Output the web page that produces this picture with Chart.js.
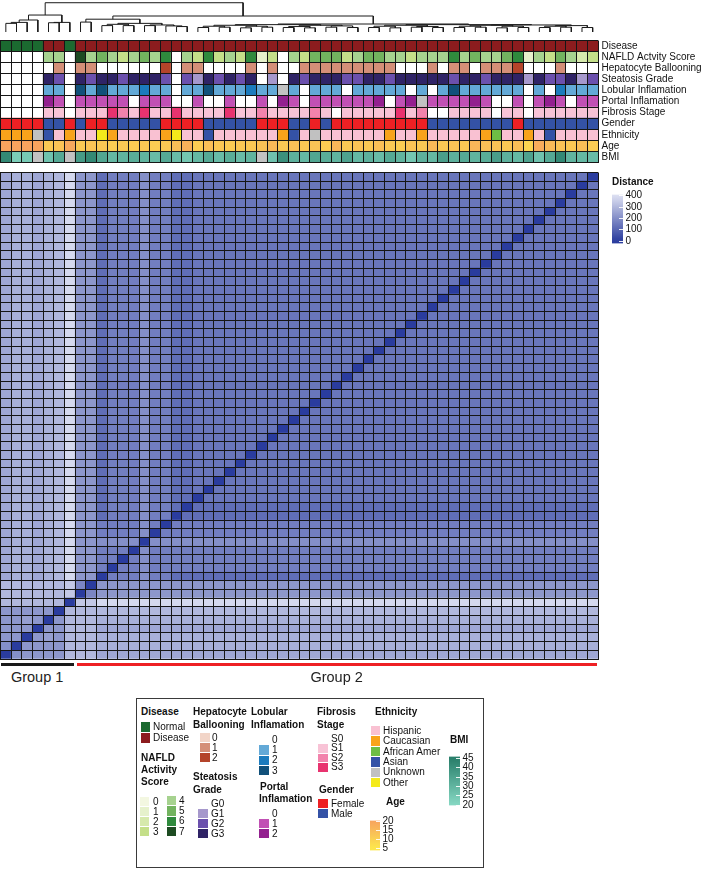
<!DOCTYPE html>
<html lang="en">
<head>
<meta charset="UTF-8">
<meta name="viewport" content="width=device-width, initial-scale=1.0">
<title>Sample distance heatmap</title>
<script src="https://cdn.jsdelivr.net/npm/chart.js@4.4.1/dist/chart.umd.min.js"></script>
<style>
  html, body { margin: 0; padding: 0; background: #fff; }
  #page { position: relative; width: 709px; height: 869px; overflow: hidden;
          font-family: 'Liberation Sans', Arial, Helvetica, sans-serif; color: #111; }
  #page canvas { position: absolute; }
  .lbl { position: absolute; font-size: 10px; line-height: 12px; white-space: nowrap; }
  .ttl { font-weight: bold; }
  .sw { position: absolute; }
  .grp { position: absolute; font-size: 14.5px; line-height: 17px; text-align: center; color: #222; }
  #legendBox { position: absolute; left: 136px; top: 698px; width: 348px; height: 170px;
               border: 1.5px solid #3a3a3a; box-sizing: border-box; }
</style>
</head>
<body>
<div id="page">
  <canvas id="dendro" width="599" height="32" style="left:0;top:0"></canvas>
  <canvas id="tracks" width="709" height="141" style="left:0;top:31px"></canvas>
  <canvas id="heat" width="600" height="490" style="left:0;top:171px"></canvas>
  <canvas id="distBar" width="40" height="66" style="left:612px;top:186px"></canvas>
  <div id="legendBox"></div>
  <canvas id="ageBar" width="39" height="47" style="left:370px;top:812px"></canvas>
  <canvas id="bmiBar" width="40" height="66" style="left:449px;top:748px"></canvas>
</div>

<script>
// ---------- data (one entry per sample, left to right) ----------
const disease = [0,0,0,0,1,1,0,1,1,1,
                 1,1,1,1,1,1,1,1,1,1,
                 1,1,1,1,1,1,1,1,1,1,
                 1,1,1,1,1,1,1,1,1,1,
                 1,1,1,1,1,1,1,1,1,1,
                 1,1,1,1,1,1];
const nafld = [null,null,null,null,4,4,null,7,4,5,
               4,3,4,5,4,6,0,4,3,6,
               3,4,3,6,1,3,0,4,3,5,
               5,5,3,4,5,5,4,4,3,4,
               4,4,6,4,5,4,4,5,6,1,
               4,3,5,4,2,3];
const ballooning = [null,null,null,null,0,1,null,1,1,0,
                    0,0,0,0,0,2,0,1,1,0,
                    0,0,0,1,0,1,0,0,1,1,
                    1,1,1,1,1,1,1,0,0,0,
                    1,0,1,1,0,1,1,1,2,0,
                    0,0,1,0,0,0];
const steatosis = [null,null,null,null,3,2,null,3,2,3,
                   3,2,3,3,3,2,0,2,1,3,
                   2,3,2,3,0,1,0,3,2,3,
                   3,3,2,2,3,3,2,3,3,3,
                   3,3,2,3,3,2,3,3,3,1,
                   3,2,2,3,1,2];
const lobular = [null,null,null,null,1,1,null,3,1,3,
                 1,1,1,2,1,1,0,1,1,3,
                 1,1,1,2,1,1,-1,1,0,1,
                 1,1,0,1,1,1,1,1,0,1,
                 0,1,3,1,1,1,1,1,1,0,
                 1,0,2,1,1,1];
const portal = [null,null,null,null,2,1,null,1,1,1,
                1,1,0,1,1,1,0,0,1,0,
                0,1,0,0,1,0,2,1,0,1,
                1,1,1,1,1,2,0,1,2,-1,
                1,1,1,1,2,1,0,0,1,0,
                1,2,1,0,1,1];
const fibrosis = [null,null,null,null,1,1,null,1,1,1,
                  3,2,1,3,1,1,3,1,1,1,
                  1,3,1,1,2,1,1,1,1,2,
                  1,0,1,1,1,1,1,3,1,2,
                  0,0,1,1,1,1,0,1,1,0,
                  1,1,1,1,1,1];
const gender = [0,0,0,0,1,1,0,1,0,0,
                1,1,1,1,1,0,0,0,0,1,
                1,1,1,1,0,0,0,1,1,0,
                1,0,0,0,0,0,0,0,0,0,
                1,1,1,1,1,1,1,1,0,1,
                1,1,1,1,1,1];
const ethnicity = [1,1,1,4,3,0,1,0,0,5,
                   1,0,0,0,0,1,5,0,0,3,
                   0,0,0,0,0,0,1,3,0,4,
                   0,0,0,0,0,0,1,0,0,1,
                   0,0,0,0,0,1,2,0,0,1,
                   0,3,0,0,0,0];
const age = [20,20,20,20,12,13,19,12,13,12,
             11,12,11,12,11,12,14,17,11,14,
             12,11,12,12,13,15,12,14,12,13,
             11,16,12,13,12,14,12,11,13,12,
             15,12,13,12,16,14,13,12,14,9,
             18,15,13,12,14,11];
const bmi = [42,23,24,null,26,33,null,37,42,34,
             29,30,32,30,28,33,28,25,29,33,
             28,32,28,30,null,26,40,31,29,34,
             32,30,35,29,31,28,33,30,25,31,
             29,36,31,33,30,32,36,31,29,35,
             26,33,42,30,29,28];

const trackNames = ['Disease', 'NAFLD Actvity Score', 'Hepatocyte Ballooning', 'Steatosis Grade',
                    'Lobular Inflamation', 'Portal Inflamation', 'Fibrosis Stage', 'Gender',
                    'Ethnicity', 'Age', 'BMI'];
const diseaseLevels = ['Normal', 'Disease'];
const genderLevels = ['Female', 'Male'];
const ethnicityLevels = ['Hispanic', 'Caucasian', 'African Amer', 'Asian', 'Unknown', 'Other'];
const groups = [{ name: 'Group 1', from: 0, to: 6 }, { name: 'Group 2', from: 7, to: 55 }];
const distTicks = [0, 100, 200, 300, 400];
const ageTicks = [5, 10, 15, 20];
const bmiTicks = [20, 25, 30, 35, 40, 45];

// distance matrix, row = sample (bottom row = first sample), letter a..u = 0..400 in steps of 20
const distRows = [
  "akllllpppn nnnnnnnnnn nnnnnnnnnn nnnnnnnnnn nnnnnnnnnn nnnnnn",
  "kallllpppo oooooooooo oooooooooo oooooooooo oooooooooo oooooo",
  "llalmlpppo oooooooooo oooooooooo oooooooooo oooooooooo oooooo",
  "lllallpppn nnnnnnnnnn nnnnnnnnnn nnnnnnnnnn nnnnnnnnnn nnnnnn",
  "llmlalpppo oooooooooo oooooooooo oooooooooo oooooooooo oooooo",
  "lllllapppp pppppppppp pppppppppp pppppppppp pppppppppp pppppp",
  "pppppparrt tttttttttt tttttttttt tttttttttt tttttttttt tttttt",
  "pppppprajl llllllllll llllllllll llllllllll llllllllll llllll",
  "pppppprjal llllllllll llllllllll llllllllll llllllllll llllll",
  "noonoptlla iiikiigggg gggggggggg gggggggggg gggggggggg gggggg",
  "noonoptlli aiikiiiiii iiiiiiiiii iiiiiiiiii iiiiiiiiii iiiiii",
  "noonoptlli iaikiiiiii iiiiiiiiii iiiiiiiiii iiiiiiiiii iiiiii",
  "noonoptlli iiakiiiiii iiiiiiiiii iiiiiiiiii iiiiiiiiii iiiiii",
  "noonoptllk kkkakkkkkk kkkkkkkkkk kkkkkkkkkk kkkkkkkkkk kkkkkk",
  "noonoptlli iiikaiiiii iiiiiiiiii iiiiiiiiii iiiiiiiiii iiiiii",
  "noonoptlli iiikiaiiii iiiiiiiiii iiiiiiiiii iiiiiiiiii iiiiii",
  "noonoptllg iiikiiaggg gggggggggg gggggggggg gggggggggg gggggg",
  "noonoptllg iiikiigagg gggggggggg gggggggggg gggggggggg gggggg",
  "noonoptllg iiikiiggah hhhhhhhhhh hhhhhhhhhh hhhhhhhhhh hhhhhh",
  "noonoptllg iiikiiggha hhhhhhhhhh hhhhhhhhhh hhhhhhhhhh hhhhhh",
  "noonoptllg iiikiigghh ahhhhhhhhh hhhhhhhhhh hhhhhhhhhh hhhhhh",
  "noonoptllg iiikiigghh hahhhhhhhh hhhhhhhhhh hhhhhhhhhh hhhhhh",
  "noonoptllg iiikiigghh hhahhhhhhh hhhhhhhhhh hhhhhhhhhh hhhhhh",
  "noonoptllg iiikiigghh hhhahhhhhh hhhhhhhhhh hhhhhhhhhh hhhhhh",
  "noonoptllg iiikiigghh hhhhahhhhh hhhhhhhhhh hhhhhhhhhh hhhhhh",
  "noonoptllg iiikiigghh hhhhhahhhh hhhhhhhhhh hhhhhhhhhh hhhhhh",
  "noonoptllg iiikiigghh hhhhhhahhh hhhhhhhhhh hhhhhhhhhh hhhhhh",
  "noonoptllg iiikiigghh hhhhhhhahh hhhhhhhhhh hhhhhhhhhh hhhhhh",
  "noonoptllg iiikiigghh hhhhhhhhah hhhhhhhhhh hhhhhhhhhh hhhhhh",
  "noonoptllg iiikiigghh hhhhhhhhha hhhhhhhhhh hhhhhhhhhh hhhhhh",
  "noonoptllg iiikiigghh hhhhhhhhhh ahhhhhhhhh hhhhhhhhhh hhhhhh",
  "noonoptllg iiikiigghh hhhhhhhhhh hahhhhhhhh hhhhhhhhhh hhhhhh",
  "noonoptllg iiikiigghh hhhhhhhhhh hhahhhhhhh hhhhhhhhhh hhhhhh",
  "noonoptllg iiikiigghh hhhhhhhhhh hhhahhhhhh hhhhhhhhhh hhhhhh",
  "noonoptllg iiikiigghh hhhhhhhhhh hhhhahhhhh hhhhhhhhhh hhhhhh",
  "noonoptllg iiikiigghh hhhhhhhhhh hhhhhahhhh hhhhhhhhhh hhhhhh",
  "noonoptllg iiikiigghh hhhhhhhhhh hhhhhhahhh hhhhhhhhhh hhhhhh",
  "noonoptllg iiikiigghh hhhhhhhhhh hhhhhhhahh hhhhhhhhhh hhhhhh",
  "noonoptllg iiikiigghh hhhhhhhhhh hhhhhhhhah hhhhhhhhhh hhhhhh",
  "noonoptllg iiikiigghh hhhhhhhhhh hhhhhhhhha hhhhhhhhhh hhhhhh",
  "noonoptllg iiikiigghh hhhhhhhhhh hhhhhhhhhh ahhhhhhhhh hhhhhh",
  "noonoptllg iiikiigghh hhhhhhhhhh hhhhhhhhhh hahhhhhhhh hhhhhh",
  "noonoptllg iiikiigghh hhhhhhhhhh hhhhhhhhhh hhahhhhhhh hhhhhh",
  "noonoptllg iiikiigghh hhhhhhhhhh hhhhhhhhhh hhhahhhhhh hhhhhh",
  "noonoptllg iiikiigghh hhhhhhhhhh hhhhhhhhhh hhhhahhhhh hhhhhh",
  "noonoptllg iiikiigghh hhhhhhhhhh hhhhhhhhhh hhhhhahhhh hhhhhh",
  "noonoptllg iiikiigghh hhhhhhhhhh hhhhhhhhhh hhhhhhahhh hhhhhh",
  "noonoptllg iiikiigghh hhhhhhhhhh hhhhhhhhhh hhhhhhhahh hhhhhh",
  "noonoptllg iiikiigghh hhhhhhhhhh hhhhhhhhhh hhhhhhhhah hhhhhh",
  "noonoptllg iiikiigghh hhhhhhhhhh hhhhhhhhhh hhhhhhhhha hhhhhh",
  "noonoptllg iiikiigghh hhhhhhhhhh hhhhhhhhhh hhhhhhhhhh ahhhhh",
  "noonoptllg iiikiigghh hhhhhhhhhh hhhhhhhhhh hhhhhhhhhh hahhhh",
  "noonoptllg iiikiigghh hhhhhhhhhh hhhhhhhhhh hhhhhhhhhh hhahhh",
  "noonoptllg iiikiigghh hhhhhhhhhh hhhhhhhhhh hhhhhhhhhh hhhahh",
  "noonoptllg iiikiigghh hhhhhhhhhh hhhhhhhhhh hhhhhhhhhh hhhhah",
  "noonoptllg iiikiigghh hhhhhhhhhh hhhhhhhhhh hhhhhhhhhh hhhhha"
];

// column dendrogram: [left, right, merge height]; numbers are sample indexes
const tree = [
  [[[[0, 1, 27], 2, 30], 3, 37.5], [[4, 5, 29], 6, 30], 53],
  [
    [[7, 8, 31], [[[9, 10, 20], [11, 12, 20], 24], [[13, 14, 20], [15, [16, 17, 17], 19], 22], 27], 40],
    [
      [[[[18, 19, 14], [20, 21, 15], 18], [[22, 23, 13], [24, 25, 15], 18], 21],
       [[[26, 27, 14], [28, 29, 13], 17], [[30, 31, 15], [32, 33, 14], 19], 21], 23],
      [[[[34, 35, 14], [36, 37, 13], 18], [[38, 39, 15], [40, 41, 14], 17], 21],
       [[[[42, 43, 14], [44, 45, 15], 18], [[46, 47, 13], [48, 49, 14], 18], 21],
        [[[50, 51, 14], [52, 53, 15], 18], [54, 55, 14], 20], 22], 23],
      25],
    50],
  91.5];

// ---------- styles ----------
const FONT = "'Liberation Sans', Arial, Helvetica, sans-serif";
const LINE = '#161616';
const NA = '#c2c2c2';
const diseaseCol = ['#1b6a30', '#8c1c1e'];
const nafldCol = ['#f3f7e1', '#e6f1cc', '#d6e9ac', '#c4df89', '#a6d28f', '#72b35f', '#2f8a3d', '#1d4b22'];
const balloonCol = ['#f2d5c8', '#d48f78', '#b4442a'];
const steatCol = ['#ffffff', '#a698cc', '#6b50ad', '#2f2366'];
const lobCol = ['#ffffff', '#63a9d7', '#1c7bbd', '#11507a'];
const portCol = ['#ffffff', '#c150b4', '#93208f'];
const fibCol = ['#ffffff', '#f8c3d6', '#f283ac', '#e8336f'];
const genderCol = ['#ed2024', '#3452a6'];
const ethCol = ['#f9c1d2', '#f8a31b', '#6dbe45', '#3452a6', '#c1c1c1', '#f4ea1b'];

Chart.defaults.animation = false;
Chart.defaults.font.family = FONT;
Chart.defaults.color = '#111';
Chart.defaults.plugins.legend.display = false;
Chart.defaults.plugins.tooltip.enabled = false;

function mix(a, b, t) {
  t = Math.max(0, Math.min(1, t));
  return 'rgb(' + a.map((v, i) => Math.round(v + (b[i] - v) * t)).join(',') + ')';
}
const distColor = v => mix([42, 60, 158], [222, 225, 242], v / 400);
const ageColor = v => mix([253, 231, 76], [247, 164, 94], (v - 5) / 15);
const bmiColor = v => mix([134, 216, 195], [40, 126, 106], (v - 20) / 25);
const cat = pal => v => v == null ? '#ffffff' : v < 0 ? NA : pal[v];
const white0 = pal => v => v == null || v === 0 ? '#ffffff' : v < 0 ? NA : pal[v];

const samples = disease.map((_, i) => 'S' + (i + 1));

// ---------- dendrogram ----------
function walk(node, pts) {
  if (typeof node === 'number') return { x: node, h: 0 };
  const a = walk(node[0], pts), b = walk(node[1], pts), h = node[2];
  pts.push({ x: a.x, y: a.h }, { x: a.x, y: h }, { x: b.x, y: h }, { x: b.x, y: b.h }, { x: b.x, y: null });
  return { x: (a.x + b.x) / 2, h };
}
const dendroPts = [];
walk(tree, dendroPts);
new Chart(document.getElementById('dendro'), {
  type: 'line',
  data: { datasets: [{ data: dendroPts, borderColor: '#1a1a1a', borderWidth: 1, pointRadius: 0, spanGaps: false }] },
  options: {
    responsive: false,
    layout: { padding: { left: 0.5, right: 1, top: 0, bottom: 0 } },
    scales: {
      x: { type: 'linear', min: -0.5, max: 55.5, display: false },
      y: { min: 0, max: 100, display: false }
    }
  }
});

// ---------- shared grid axes (drawn over the cells) ----------
function gridX() {
  return { type: 'category', labels: samples, stacked: true, offset: true,
    grid: { offset: true, color: LINE, lineWidth: 1, drawTicks: false, z: 1 },
    border: { color: LINE, width: 1, z: 1 },
    ticks: { display: false, autoSkip: false },
    afterFit: s => { s.height = 0; } };
}
function gridY(n) {
  return { type: 'linear', stacked: true, min: 0, max: n, position: 'left',
    grid: { color: LINE, lineWidth: 1, drawTicks: false, z: 1 },
    border: { color: LINE, width: 1, z: 1 },
    ticks: { display: false, stepSize: 1, autoSkip: false },
    afterFit: s => { s.width = 0; } };
}

// ---------- annotation tracks ----------
const tracks = [
  [disease, cat(diseaseCol)],
  [nafld, white0(nafldCol)],
  [ballooning, white0(balloonCol)],
  [steatosis, cat(steatCol)],
  [lobular, cat(lobCol)],
  [portal, cat(portCol)],
  [fibrosis, cat(fibCol)],
  [gender, cat(genderCol)],
  [ethnicity, cat(ethCol)],
  [age, v => v == null ? NA : ageColor(v)],
  [bmi, v => v == null ? NA : bmiColor(v)]
];
new Chart(document.getElementById('tracks'), {
  type: 'bar',
  data: {
    labels: samples,
    datasets: tracks.slice().reverse().map(([vals, colorOf], i) => ({
      label: trackNames[tracks.length - 1 - i],
      data: vals.map(() => 1),
      backgroundColor: vals.map(colorOf),
      borderWidth: 0, barPercentage: 1, categoryPercentage: 1, yAxisID: 'y'
    }))
  },
  options: {
    responsive: false,
    layout: { padding: { left: 0.5, right: 0, top: 1, bottom: 1 } },
    scales: {
      x: gridX(),
      y: gridY(trackNames.length),
      names: { type: 'category', labels: trackNames, position: 'right', offset: true,
        grid: { display: false, drawTicks: false }, border: { display: false },
        ticks: { autoSkip: false, padding: 3.5, font: { size: 10 }, color: '#111' },
        afterFit: s => { s.width = 111; } }
    }
  }
});

// ---------- distance heatmap ----------
const decode = ch => (ch.charCodeAt(0) - 97) * 20;
const heat = new Chart(document.getElementById('heat'), {
  type: 'bar',
  data: {
    labels: samples,
    datasets: distRows.map((row, r) => ({
      label: samples[r],
      data: samples.map(() => 1),
      backgroundColor: row.replace(/ /g, '').split('').map(ch => distColor(decode(ch))),
      borderWidth: 0, barPercentage: 1, categoryPercentage: 1
    }))
  },
  options: {
    responsive: false,
    layout: { padding: { left: 0.5, right: 2, top: 1.5, bottom: 2 } },
    scales: { x: gridX(), y: gridY(samples.length) }
  }
});

// ---------- colour bars ----------
const innerTicks = {
  id: 'innerTicks',
  afterDatasetsDraw(chart) {
    const { ctx, chartArea: a, scales: { y } } = chart;
    ctx.save();
    ctx.strokeStyle = 'rgba(255,255,255,0.9)';
    ctx.lineWidth = 1;
    y.ticks.forEach(t => {
      const py = Math.round(y.getPixelForValue(t.value)) + 0.5;
      ctx.beginPath(); ctx.moveTo(a.right - 4, py); ctx.lineTo(a.right + 1, py); ctx.stroke();
    });
    ctx.restore();
  }
};
function colorBar(id, lo, hi, tickVals, colorAt, padTop, padBottom) {
  new Chart(document.getElementById(id), {
    type: 'bar',
    data: { labels: [''], datasets: [{
      data: [[lo, hi]], borderWidth: 0, barPercentage: 1, categoryPercentage: 1,
      backgroundColor: c => {
        const ch = c.chart;
        if (!ch.chartArea) return null;
        const y = ch.scales.y;
        const g = ch.ctx.createLinearGradient(0, y.getPixelForValue(lo), 0, y.getPixelForValue(hi));
        for (let i = 0; i <= 10; i++) g.addColorStop(i / 10, colorAt(lo + (hi - lo) * i / 10));
        return g;
      } }] },
    options: {
      responsive: false,
      layout: { padding: { left: 0, right: 1, top: padTop, bottom: padBottom } },
      scales: {
        x: { display: false },
        y: { position: 'right', min: lo, max: hi,
          afterBuildTicks: s => { s.ticks = tickVals.map(v => ({ value: v })); },
          grid: { display: false, drawTicks: false }, border: { display: false },
          ticks: { autoSkip: false, padding: 2.5, font: { size: 10 }, color: '#111' },
          afterFit: s => { s.width = 28; } }
      }
    },
    plugins: [innerTicks]
  });
}
colorBar('distBar', -24, 408, distTicks, distColor, 6, 6);
colorBar('ageBar', 3.8, 20.4, ageTicks, ageColor, 2, 2);
colorBar('bmiBar', 19.6, 45.9, bmiTicks, bmiColor, 2, 2);

// ---------- html text: group bars, legend ----------
const page = document.getElementById('page');
function text(str, x, cy, bold) {
  const d = document.createElement('div');
  d.className = 'lbl' + (bold ? ' ttl' : '');
  d.textContent = str;
  d.style.left = x + 'px';
  d.style.top = (cy - 6) + 'px';
  page.appendChild(d);
}
function swatch(x, y, w, h, color) {
  const d = document.createElement('div');
  d.className = 'sw';
  Object.assign(d.style, { left: x + 'px', top: y + 'px', width: w + 'px', height: h + 'px', background: color });
  page.appendChild(d);
}
function list(x, top, pitch, w, labelX, entries) {
  entries.forEach(([label, color], i) => {
    const y = top + i * pitch;
    if (color) swatch(x, y, w, pitch - 1, color);
    text(label, labelX, y + (pitch - 1) / 2, false);
  });
}

const xs = heat.scales.x;
const cw = (xs.right - xs.left) / samples.length;
groups.forEach((g, i) => {
  const l = xs.left + g.from * cw + (i ? 1.5 : 0), r = xs.left + (g.to + 1) * cw - 1.5;
  const bar = document.createElement('div');
  Object.assign(bar.style, { position: 'absolute', left: l + 'px', width: (r - l) + 'px', top: '663px',
    height: '2.5px', background: i ? '#ee2024' : '#1a1a1a' });
  page.appendChild(bar);
  const t = document.createElement('div');
  t.className = 'grp';
  t.textContent = g.name;
  Object.assign(t.style, { left: l + 'px', width: (r - l) + 'px', top: '668.5px' });
  page.appendChild(t);
});

text('Distance', 612, 182, true);

text('Disease', 141, 712, true);
list(141, 722, 11, 9, 153, diseaseLevels.map((n, i) => [n, diseaseCol[i]]));

['NAFLD', 'Activity', 'Score'].forEach((s, i) => text(s, 141, 758 + i * 12, true));
list(140, 797, 10, 9, 153, [0, 1, 2, 3].map(v => [String(v), nafldCol[v]]));
list(167, 796, 10.3, 9, 179, [4, 5, 6, 7].map(v => [String(v), nafldCol[v]]));

['Hepatocyte', 'Ballooning'].forEach((s, i) => text(s, 193, 712 + i * 12.5, true));
list(200, 733, 10, 10, 212, [0, 1, 2].map(v => [String(v), balloonCol[v]]));

['Steatosis', 'Grade'].forEach((s, i) => text(s, 193, 777 + i * 12.5, true));
list(198, 799, 10, 10, 211, [0, 1, 2, 3].map(v => ['G' + v, v ? steatCol[v] : null]));

['Lobular', 'Inflamation'].forEach((s, i) => text(s, 251, 712 + i * 12.5, true));
list(259, 735, 10.3, 10, 272, [0, 1, 2, 3].map(v => [String(v), v ? lobCol[v] : null]));

text('Portal', 260, 787, true);
text('Inflamation', 259, 799, true);
list(259, 809, 10, 10, 272, [0, 1, 2].map(v => [String(v), v ? portCol[v] : null]));

['Fibrosis', 'Stage'].forEach((s, i) => text(s, 317, 712 + i * 12.5, true));
list(318, 734.5, 9.5, 10, 331, [0, 1, 2, 3].map(v => ['S' + v, v ? fibCol[v] : null]));

text('Gender', 319, 790, true);
list(318, 799, 10, 10, 331, genderLevels.map((n, i) => [n, genderCol[i]]));

text('Ethnicity', 375, 712, true);
list(371, 726, 10.4, 9, 383, ethnicityLevels.map((n, i) => [n, ethCol[i]]));

text('Age', 386, 802, true);
text('BMI', 450, 740, true);
</script>
</body>
</html>
